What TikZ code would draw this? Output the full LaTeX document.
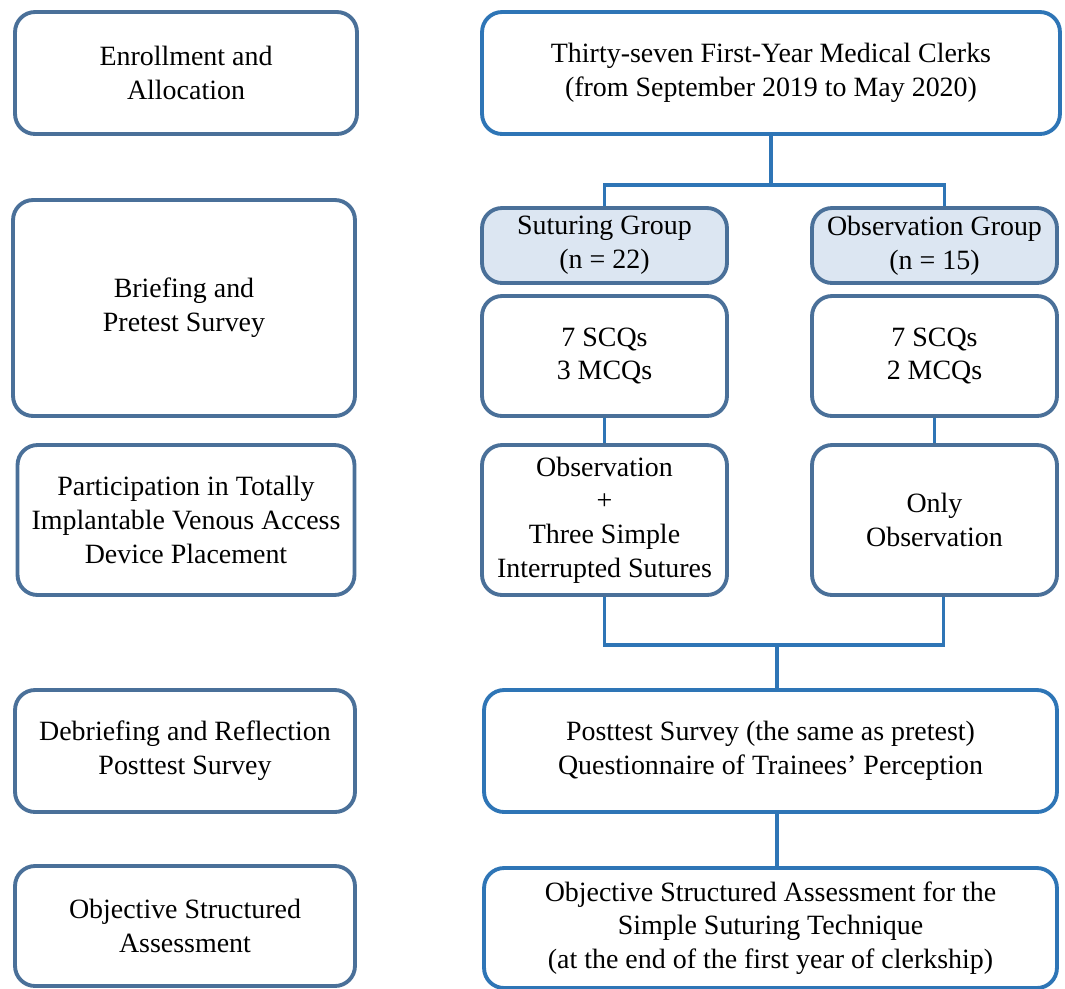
\documentclass[tikz,border=0pt]{standalone}
\usepackage{fontspec}
\setmainfont{Liberation Serif}
\usepackage{tikz}

\definecolor{stepblue}{RGB}{74,112,153}
\definecolor{flowblue}{RGB}{46,117,182}
\definecolor{groupfill}{RGB}{220,230,242}

\tikzset{
  box/.style={draw, line width=2.2pt, rounded corners=0.4cm, align=center,
    inner sep=0pt, font=\fontsize{15.9}{19.2}\selectfont},
  stepbox/.style={box, draw=stepblue},
  flowbox/.style={box, draw=flowblue},
  groupbox/.style={flowbox, draw=stepblue, fill=groupfill},
  link/.style={draw=flowblue, line width=2.2pt}
}

\begin{document}
\begin{tikzpicture}[x=0.02cm, y=-0.02cm]
        \useasboundingbox (0,0) rectangle (1065,988);
        % stages on the left
        \node[stepbox, minimum width=6.84cm, minimum height=2.44cm] (enroll) at (186,73) {Enrollment and\\Allocation};
        \node[stepbox, minimum width=6.84cm, minimum height=4.32cm] (brief) at (184,308) {Briefing and\\Pretest Survey};
        \node[stepbox, minimum width=6.74cm, minimum height=3.0cm] (partic) at (186,520) {Participation in Totally\\Implantable Venous Access\\Device Placement};
        \node[stepbox, minimum width=6.8cm, minimum height=2.44cm] (debrief) at (185,751) {Debriefing and Reflection\\Posttest Survey};
        \node[stepbox, minimum width=6.8cm, minimum height=2.4cm] (assessL) at (185,926) {Objective Structured\\Assessment};
        % flow on the right
        \node[flowbox, minimum width=11.56cm, minimum height=2.44cm] (clerks) at (771,73) {Thirty-seven First-Year Medical Clerks\\(from September 2019 to May 2020)};
        \node[groupbox, minimum width=4.9cm, minimum height=1.5cm] (sgroup) at (604.5,245.5) {Suturing Group\\(n = 22)};
        \node[groupbox, minimum width=4.9cm, minimum height=1.5cm] (ogroup) at (934.5,245.5) {Observation Group\\(n = 15)};
        \node[flowbox, draw=stepblue, minimum width=4.9cm, minimum height=2.4cm] (stest) at (604.5,356) {7 SCQs\\3 MCQs};
        \node[flowbox, draw=stepblue, minimum width=4.9cm, minimum height=2.4cm] (otest) at (934.5,356) {7 SCQs\\2 MCQs};
        \node[flowbox, draw=stepblue, minimum width=4.9cm, minimum height=3.0cm] (sdo) at (604.5,520) {Observation\\+\\Three Simple\\Interrupted Sutures};
        \node[flowbox, draw=stepblue, minimum width=4.9cm, minimum height=3.0cm] (odo) at (934.5,520) {Only\\Observation};
        \node[flowbox, minimum width=11.46cm, minimum height=2.44cm] (post) at (770.5,751) {Posttest Survey (the same as pretest)\\Questionnaire of Trainees’ Perception};
        \node[flowbox, minimum width=11.46cm, minimum height=2.4cm] (assessR) at (770.5,928) {Objective Structured Assessment for the\\Simple Suturing Technique\\(at the end of the first year of clerkship)};
        % connectors
        \coordinate (split) at (771,185);
        \coordinate (join) at (777,645);
        \draw[link] (clerks.south) -- (split);
        \draw[link] (sgroup.north) |- (split) -| ([xshift=0.2cm]ogroup.north);
        \draw[link] (stest) -- (sdo);
        \draw[link] (otest) -- (odo);
        \draw[link] (sdo.south) |- (join) -| ([xshift=0.18cm]odo.south);
        \draw[link] (join) -- (join |- post.north);
        \draw[link] (post.south -| join) -- (assessR.north -| join);
    \end{tikzpicture}
\end{document}
